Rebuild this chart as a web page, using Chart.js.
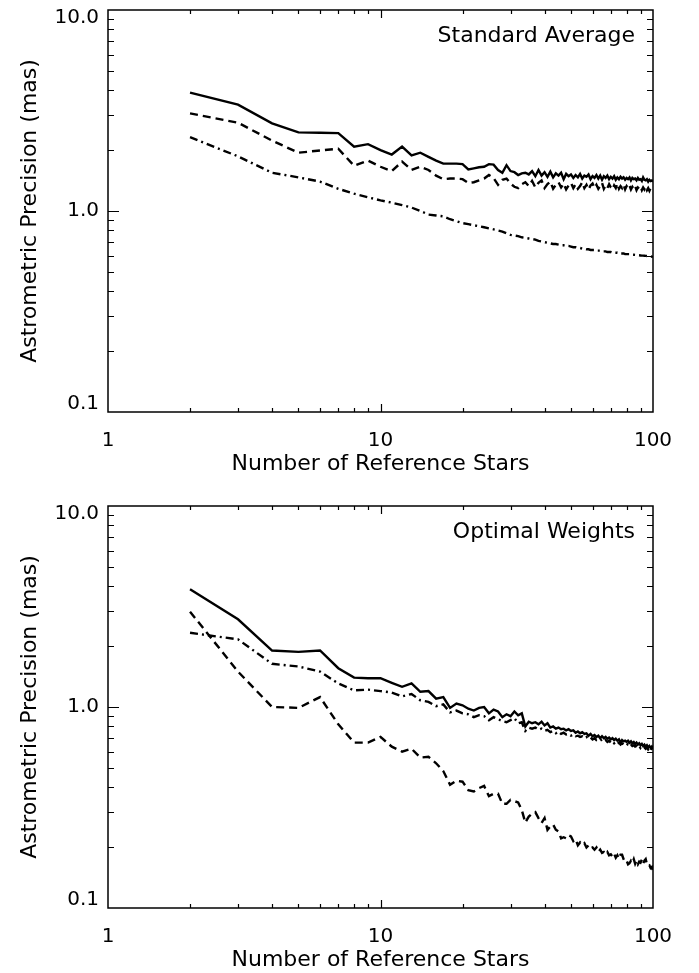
<!DOCTYPE html>
<html>
<head>
<meta charset="utf-8">
<script src="https://cdn.jsdelivr.net/npm/chart.js@4.4.0/dist/chart.umd.min.js"></script>
<style>
  html, body { margin: 0; padding: 0; background: #fff; overflow: hidden; }
  canvas { display: block; }
</style>
</head>
<body>
<canvas id="avgChart" width="699" height="496"></canvas>
<canvas id="optChart" width="699" height="496"></canvas>
<script>
// number of reference stars (x)
const stars = [
  2, 3, 4, 5, 6, 7, 8, 9, 10, 11,
  12, 13, 14, 15, 16, 17, 18, 19, 20, 21,
  22, 23, 24, 25, 26, 27, 28, 29, 30, 31,
  32, 33, 34, 35, 36, 37, 38, 39, 40, 41,
  42, 43, 44, 45, 46, 47, 48, 49, 50, 51,
  52, 53, 54, 55, 56, 57, 58, 59, 60, 61,
  62, 63, 64, 65, 66, 67, 68, 69, 70, 71,
  72, 73, 74, 75, 76, 77, 78, 79, 80, 81,
  82, 83, 84, 85, 86, 87, 88, 89, 90, 91,
  92, 93, 94, 95, 96, 97, 98, 99, 100
];

// top panel: standard average
const avgSolid = [
  3.88, 3.38, 2.73, 2.46, 2.45, 2.44, 2.09, 2.15, 2.01, 1.91,
  2.09, 1.89, 1.95, 1.86, 1.78, 1.72, 1.72, 1.72, 1.71, 1.61,
  1.63, 1.65, 1.66, 1.71, 1.70, 1.60, 1.55, 1.69, 1.58, 1.56,
  1.51, 1.54, 1.55, 1.52, 1.58, 1.49, 1.60, 1.50, 1.56, 1.48,
  1.57, 1.47, 1.54, 1.50, 1.55, 1.44, 1.53, 1.49, 1.52, 1.46,
  1.51, 1.47, 1.53, 1.45, 1.50, 1.48, 1.52, 1.44, 1.49, 1.46,
  1.51, 1.45, 1.50, 1.43, 1.49, 1.46, 1.50, 1.44, 1.48, 1.45,
  1.49, 1.43, 1.47, 1.44, 1.48, 1.45, 1.47, 1.43, 1.46, 1.44,
  1.47, 1.42, 1.46, 1.44, 1.45, 1.42, 1.46, 1.43, 1.44, 1.41,
  1.47, 1.43, 1.42, 1.44, 1.40, 1.43, 1.41, 1.42, 1.40
];
const avgDashed = [
  3.06, 2.75, 2.24, 1.95, 2.00, 2.04, 1.68, 1.78, 1.66, 1.58,
  1.76, 1.60, 1.66, 1.60, 1.50, 1.44, 1.45, 1.45, 1.44, 1.38,
  1.39, 1.42, 1.45, 1.51, 1.46, 1.35, 1.43, 1.45, 1.37, 1.32,
  1.30, 1.36, 1.39, 1.33, 1.41, 1.31, 1.38, 1.42, 1.30, 1.36,
  1.40, 1.29, 1.35, 1.39, 1.31, 1.37, 1.28, 1.34, 1.38, 1.30,
  1.36, 1.29, 1.33, 1.39, 1.30, 1.35, 1.28, 1.34, 1.37, 1.30,
  1.35, 1.29, 1.33, 1.38, 1.29, 1.34, 1.30, 1.36, 1.31, 1.28,
  1.34, 1.30, 1.37, 1.29, 1.33, 1.30, 1.35, 1.28, 1.33, 1.30,
  1.34, 1.28, 1.32, 1.29, 1.33, 1.27, 1.31, 1.29, 1.32, 1.27,
  1.31, 1.28, 1.32, 1.27, 1.30, 1.26, 1.30, 1.27, 1.28
];
const avgDashDot = [
  2.33, 1.87, 1.55, 1.47, 1.40, 1.29, 1.22, 1.17, 1.13, 1.10,
  1.07, 1.04, 1.00, 0.96, 0.95, 0.94, 0.91, 0.89, 0.87, 0.86,
  0.85, 0.84, 0.83, 0.82, 0.81, 0.80, 0.79, 0.775, 0.76, 0.755,
  0.75, 0.74, 0.735, 0.73, 0.725, 0.72, 0.71, 0.705, 0.70, 0.695,
  0.69, 0.685, 0.685, 0.68, 0.675, 0.675, 0.67, 0.67, 0.665, 0.66,
  0.66, 0.655, 0.655, 0.65, 0.65, 0.645, 0.645, 0.64, 0.64, 0.64,
  0.635, 0.635, 0.635, 0.63, 0.63, 0.63, 0.625, 0.625, 0.625, 0.62,
  0.62, 0.62, 0.62, 0.615, 0.615, 0.615, 0.615, 0.61, 0.61, 0.61,
  0.61, 0.608, 0.607, 0.606, 0.605, 0.604, 0.603, 0.602, 0.601, 0.60,
  0.60, 0.599, 0.598, 0.597, 0.596, 0.595, 0.594, 0.593, 0.59
];

// bottom panel: optimal weights
const optSolid = [
  3.85, 2.73, 1.91, 1.88, 1.91, 1.56, 1.40, 1.39, 1.39, 1.32,
  1.26, 1.31, 1.19, 1.20, 1.10, 1.12, 0.99, 1.04, 1.02, 0.98,
  0.96, 0.99, 1.00, 0.93, 0.97, 0.95, 0.89, 0.92, 0.90, 0.95,
  0.91, 0.93, 0.80, 0.845, 0.83, 0.84, 0.82, 0.845, 0.81, 0.83,
  0.79, 0.80, 0.78, 0.79, 0.775, 0.78, 0.765, 0.775, 0.76, 0.765,
  0.745, 0.755, 0.74, 0.75, 0.735, 0.74, 0.72, 0.735, 0.715, 0.725,
  0.71, 0.72, 0.70, 0.715, 0.70, 0.71, 0.695, 0.705, 0.69, 0.70,
  0.685, 0.695, 0.68, 0.69, 0.665, 0.685, 0.675, 0.68, 0.67, 0.68,
  0.665, 0.675, 0.66, 0.67, 0.655, 0.665, 0.65, 0.66, 0.645, 0.655,
  0.64, 0.65, 0.635, 0.645, 0.63, 0.64, 0.625, 0.635, 0.62
];
const optDashed = [
  2.98, 1.50, 1.00, 0.99, 1.12, 0.82, 0.665, 0.665, 0.71, 0.635,
  0.60, 0.62, 0.56, 0.565, 0.525, 0.48, 0.41, 0.43, 0.425, 0.386,
  0.38, 0.395, 0.405, 0.36, 0.37, 0.37, 0.33, 0.33, 0.345, 0.34,
  0.335, 0.307, 0.266, 0.285, 0.295, 0.30, 0.28, 0.265, 0.28, 0.245,
  0.255, 0.26, 0.245, 0.24, 0.222, 0.225, 0.222, 0.23, 0.227, 0.215,
  0.22, 0.205, 0.212, 0.206, 0.21, 0.20, 0.205, 0.198, 0.20, 0.195,
  0.20, 0.19, 0.195, 0.188, 0.19, 0.185, 0.19, 0.183, 0.185, 0.18,
  0.186, 0.178, 0.183, 0.176, 0.184, 0.184, 0.175, 0.17, 0.172, 0.165,
  0.167, 0.172, 0.168, 0.175, 0.166, 0.172, 0.165, 0.17, 0.168, 0.174,
  0.166, 0.172, 0.175, 0.165, 0.162, 0.163, 0.158, 0.16, 0.152
];
const optDashDot = [
  2.34, 2.17, 1.64, 1.59, 1.50, 1.31, 1.21, 1.22, 1.20, 1.18,
  1.13, 1.16, 1.08, 1.06, 1.01, 1.03, 0.94, 0.96, 0.93, 0.92,
  0.89, 0.91, 0.90, 0.86, 0.89, 0.87, 0.85, 0.84, 0.86, 0.88,
  0.83, 0.84, 0.76, 0.79, 0.78, 0.79, 0.77, 0.78, 0.76, 0.77,
  0.75, 0.76, 0.74, 0.755, 0.735, 0.745, 0.73, 0.735, 0.72, 0.73,
  0.715, 0.72, 0.71, 0.715, 0.70, 0.71, 0.695, 0.705, 0.69, 0.70,
  0.685, 0.69, 0.68, 0.69, 0.675, 0.685, 0.67, 0.68, 0.665, 0.675,
  0.66, 0.67, 0.655, 0.665, 0.65, 0.66, 0.65, 0.655, 0.645, 0.655,
  0.64, 0.65, 0.64, 0.645, 0.635, 0.64, 0.63, 0.64, 0.625, 0.635,
  0.625, 0.63, 0.62, 0.63, 0.615, 0.625, 0.61, 0.62, 0.605
];

// axis ticks
const xLabelTicks = [1, 10, 100];
const yLabelTicks = [0.1, 1, 10];
const xMinor = [2, 3, 4, 5, 6, 7, 8, 9, 20, 30, 40, 50, 60, 70, 80, 90];
const yMinor = [0.2, 0.3, 0.4, 0.5, 0.6, 0.7, 0.8, 0.9, 2, 3, 4, 5, 6, 7, 8, 9];

const family = "'DejaVu Sans', sans-serif";
const tickFont = { family: family, size: 20, lineHeight: 0.8 };
const titleFont = { family: family, size: 22 };

// box frame with inward ticks + panel label
const frameTicks = {
  id: "frameTicks",
  afterDatasetsDraw: (chart, args, opts) => {
    const { ctx, chartArea: a, scales } = chart;
    const x = scales.x, y = scales.y;
    ctx.save();
    ctx.strokeStyle = "#000";
    ctx.lineWidth = 1.5;
    ctx.strokeRect(a.left, a.top, a.right - a.left, a.bottom - a.top);
    ctx.lineWidth = 1.2;
    ctx.beginPath();
    xMinor.concat([10]).forEach((v) => {
      const px = Math.round(x.getPixelForValue(v)) + 0.5;
      const len = v === 10 ? 8 : 4;
      ctx.moveTo(px, a.bottom); ctx.lineTo(px, a.bottom - len);
      ctx.moveTo(px, a.top); ctx.lineTo(px, a.top + len);
    });
    yMinor.concat([1]).forEach((v) => {
      const py = Math.round(y.getPixelForValue(v)) + 0.5;
      const len = v === 1 ? 11 : 6;
      ctx.moveTo(a.left, py); ctx.lineTo(a.left + len, py);
      ctx.moveTo(a.right, py); ctx.lineTo(a.right - len, py);
    });
    ctx.stroke();
    ctx.fillStyle = "#000";
    ctx.font = "22px " + family;
    ctx.textAlign = "right";
    ctx.textBaseline = "alphabetic";
    ctx.fillText(opts.label, a.right - 18, a.top + 32);
    ctx.restore();
  },
};

function series(vals, dash) {
  return {
    data: stars.map((n, i) => ({ x: n, y: vals[i] })),
    borderColor: "#000",
    borderWidth: 2.4,
    borderDash: dash,
    pointRadius: 0,
    fill: false,
    tension: 0,
  };
}

function makeChart(id, label, solid, dashed, dashdot) {
  return new Chart(document.getElementById(id), {
    type: "line",
    data: {
      datasets: [series(solid, []), series(dashed, [8, 5]), series(dashdot, [8, 4, 2, 4])],
    },
    plugins: [frameTicks],
    options: {
      responsive: false,
      animation: false,
      layout: { padding: { top: 10, right: 46, left: 0, bottom: 0 } },
      plugins: {
        legend: { display: false },
        tooltip: { enabled: false },
        frameTicks: { label: label },
      },
      scales: {
        x: {
          type: "logarithmic",
          min: 1,
          max: 100,
          border: { display: false },
          grid: { display: false, drawTicks: false },
          afterBuildTicks: (s) => { s.ticks = xLabelTicks.map((v) => ({ value: v })); },
          afterFit: (s) => { s.height = 84; },
          ticks: {
            color: "#000", font: { family: family, size: 20 }, padding: 17, maxRotation: 0, autoSkip: false,
            callback: (v) => String(v),
          },
          title: {
            display: true, text: "Number of Reference Stars", color: "#000", font: titleFont,
            padding: { top: 0, bottom: 19 },
          },
        },
        y: {
          type: "logarithmic",
          min: 0.1,
          max: 10,
          border: { display: false },
          grid: { display: false, drawTicks: false },
          afterBuildTicks: (s) => { s.ticks = yLabelTicks.map((v) => ({ value: v })); },
          afterFit: (s) => {
            s.width = 108;
            s.paddingTop = 0;
            s.paddingBottom = 0;
          },
          ticks: {
            color: "#000", font: tickFont, padding: 9, autoSkip: false,
            callback: (v) => (v === 10 ? ["", "10.0"] : v === 1 ? "1.0" : ["0.1", ""]),
          },
          title: {
            display: true, text: "Astrometric Precision (mas)", color: "#000", font: titleFont,
            padding: { top: 17, bottom: 0 },
          },
        },
      },
    },
  });
}

makeChart("avgChart", "Standard Average", avgSolid, avgDashed, avgDashDot);
makeChart("optChart", "Optimal Weights", optSolid, optDashed, optDashDot);
</script>
</body>
</html>
